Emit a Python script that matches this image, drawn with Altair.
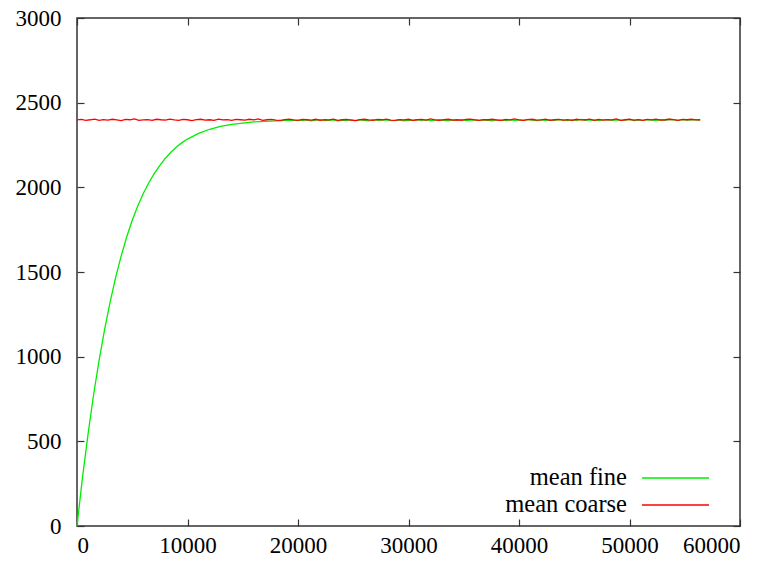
import altair as alt
import pandas as pd

# ---- data ----
fine_curve_x = [0, 500, 1000, 1500, 2000, 2500, 3000, 3500, 4000, 4500,
                5000, 5500, 6000, 6500, 7000, 7500, 8000, 8500, 9000, 9500, 10000,
                11000, 12000, 13000, 14000, 15000, 16000, 17000, 18000, 19000, 20000]
fine_curve_y = [0, 289, 543, 775, 978, 1161, 1324, 1468, 1595, 1708,
                1806, 1890, 1964, 2027, 2082, 2130, 2172, 2207, 2238, 2264, 2285,
                2319, 2343, 2360, 2372, 2379, 2386, 2390, 2393, 2395, 2396]

fine_flat_y = [
    2395, 2398, 2393, 2397, 2400, 2394, 2396, 2399, 2392, 2397,
    2395, 2399, 2394, 2398, 2396, 2393, 2400, 2395, 2397, 2398,
    2394, 2396, 2399, 2393, 2397, 2395, 2400, 2396, 2398, 2394,
    2397, 2399, 2395, 2393, 2398, 2396, 2401, 2394, 2397, 2399,
    2395, 2398, 2396, 2393, 2400, 2397, 2394, 2399, 2396, 2398,
    2395, 2401, 2397, 2394, 2399, 2396, 2398, 2395, 2400, 2397,
    2394, 2398, 2396, 2401, 2395, 2399, 2397, 2394, 2398, 2400,
    2396, 2399, 2395, 2397, 2401, 2394, 2398, 2396, 2400, 2397,
    2395, 2399, 2396, 2402, 2398, 2395, 2400, 2397, 2399, 2398,
    2397,
]
fine_flat_x = list(range(20400, 56401, 400))

coarse_y = [
    2398, 2401, 2396, 2399, 2403, 2395, 2400, 2397, 2402, 2398,
    2394, 2401, 2399, 2404, 2396, 2398, 2400, 2395, 2402, 2399,
    2397, 2403, 2398, 2396, 2401, 2399, 2394, 2400, 2402, 2397,
    2399, 2396, 2403, 2398, 2400, 2395, 2401, 2399, 2397, 2402,
    2398, 2404, 2396, 2399, 2401, 2397, 2395, 2400, 2403, 2398,
    2396, 2401, 2399, 2397, 2402, 2395, 2400, 2398, 2403, 2396,
    2399, 2401, 2397, 2394, 2400, 2402, 2398, 2396, 2401, 2399,
    2403, 2397, 2395, 2400, 2398, 2402, 2396, 2399, 2401, 2397,
    2404, 2398, 2395, 2400, 2402, 2397, 2399, 2396, 2401, 2403,
    2398, 2395, 2400, 2399, 2402, 2397, 2396, 2401, 2398, 2404,
    2399, 2395, 2400, 2402, 2397, 2398, 2403, 2396, 2399, 2401,
    2397, 2400, 2395, 2402, 2398, 2399, 2403, 2396, 2401, 2397,
    2400, 2398, 2404, 2395, 2399, 2402, 2397, 2400, 2396, 2401,
    2398, 2403, 2397, 2399, 2402, 2400, 2396, 2401, 2399, 2402,
    2398, 2399,
]
coarse_x = list(range(0, 56401, 400))

x_ticks = [0, 10000, 20000, 30000, 40000, 50000, 60000]
y_ticks = [0, 500, 1000, 1500, 2000, 2500, 3000]
series_names = ["mean fine", "mean coarse"]
series_colors = ["#00ee00", "#ff0000"]

rows = []
for xv, yv in zip(fine_curve_x + fine_flat_x, fine_curve_y + fine_flat_y):
    rows.append({"x": xv, "y": yv, "series": series_names[0], "order": 0})
for xv, yv in zip(coarse_x, coarse_y):
    rows.append({"x": xv, "y": yv, "series": series_names[1], "order": 1})
df = pd.DataFrame(rows)

FONT = "Liberation Serif"
W, H = 663, 508
T = 7

xscale = alt.Scale(domain=[0, 60000], nice=False)
yscale = alt.Scale(domain=[0, 3000], nice=False)

base = alt.Chart(df)

lines = base.mark_line(strokeWidth=1.3, interpolate="linear").encode(
    x=alt.X("x:Q", scale=xscale,
            axis=alt.Axis(orient="bottom", values=x_ticks, format="d", title=None,
                          offset=-T, tickSize=T, labelPadding=8, domain=False, grid=False,
                          labelFont=FONT, labelFontSize=23, labelColor="#000")),
    y=alt.Y("y:Q", scale=yscale,
            axis=alt.Axis(orient="left", values=y_ticks, format="d", title=None,
                          offset=-T, tickSize=T, labelPadding=16, domain=False, grid=False,
                          labelFont=FONT, labelFontSize=23, labelColor="#000")),
    color=alt.Color("series:N",
                    scale=alt.Scale(domain=series_names, range=series_colors),
                    legend=None),
    detail="series:N",
    order="order:Q",
)

mirror = base.mark_line(opacity=0).encode(
    x=alt.X("x:Q", scale=xscale,
            axis=alt.Axis(orient="top", values=x_ticks, labels=False, title=None,
                          offset=-T, tickSize=T, domain=False, grid=False)),
    y=alt.Y("y:Q", scale=yscale,
            axis=alt.Axis(orient="right", values=y_ticks, labels=False, title=None,
                          offset=-T, tickSize=T, domain=False, grid=False)),
    detail="series:N",
)

# gnuplot-style key (text left of the line sample), bottom right inside the plot
key_layers = []
key_rows_y = [460, 487]
for i, name in enumerate(series_names):
    kd = alt.Chart(pd.DataFrame({"name": [name]}))
    key_layers.append(
        kd.mark_text(align="right", baseline="middle", font=FONT, fontSize=24.5,
                     color="#000").encode(
            x=alt.value(550), y=alt.value(key_rows_y[i]), text="name:N")
    )
    key_layers.append(
        kd.mark_rule(strokeWidth=1.3, color=series_colors[i]).encode(
            x=alt.value(565), x2=alt.value(632), y=alt.value(key_rows_y[i]))
    )

chart = alt.layer(mirror, lines, *key_layers).properties(
    width=W, height=H,
    background="white",
    autosize=alt.AutoSizeParams(type="none"),
    padding={"left": 69, "top": 10, "right": 30, "bottom": 36},
).configure_view(
    stroke="#333", strokeWidth=1.5
).configure_axis(
    labelFont=FONT, labelFontSize=23, labelColor="#000",
    tickColor="#333", tickWidth=1.2
)

chart.save("out.html", embed_options={"renderer": "svg", "actions": False})
